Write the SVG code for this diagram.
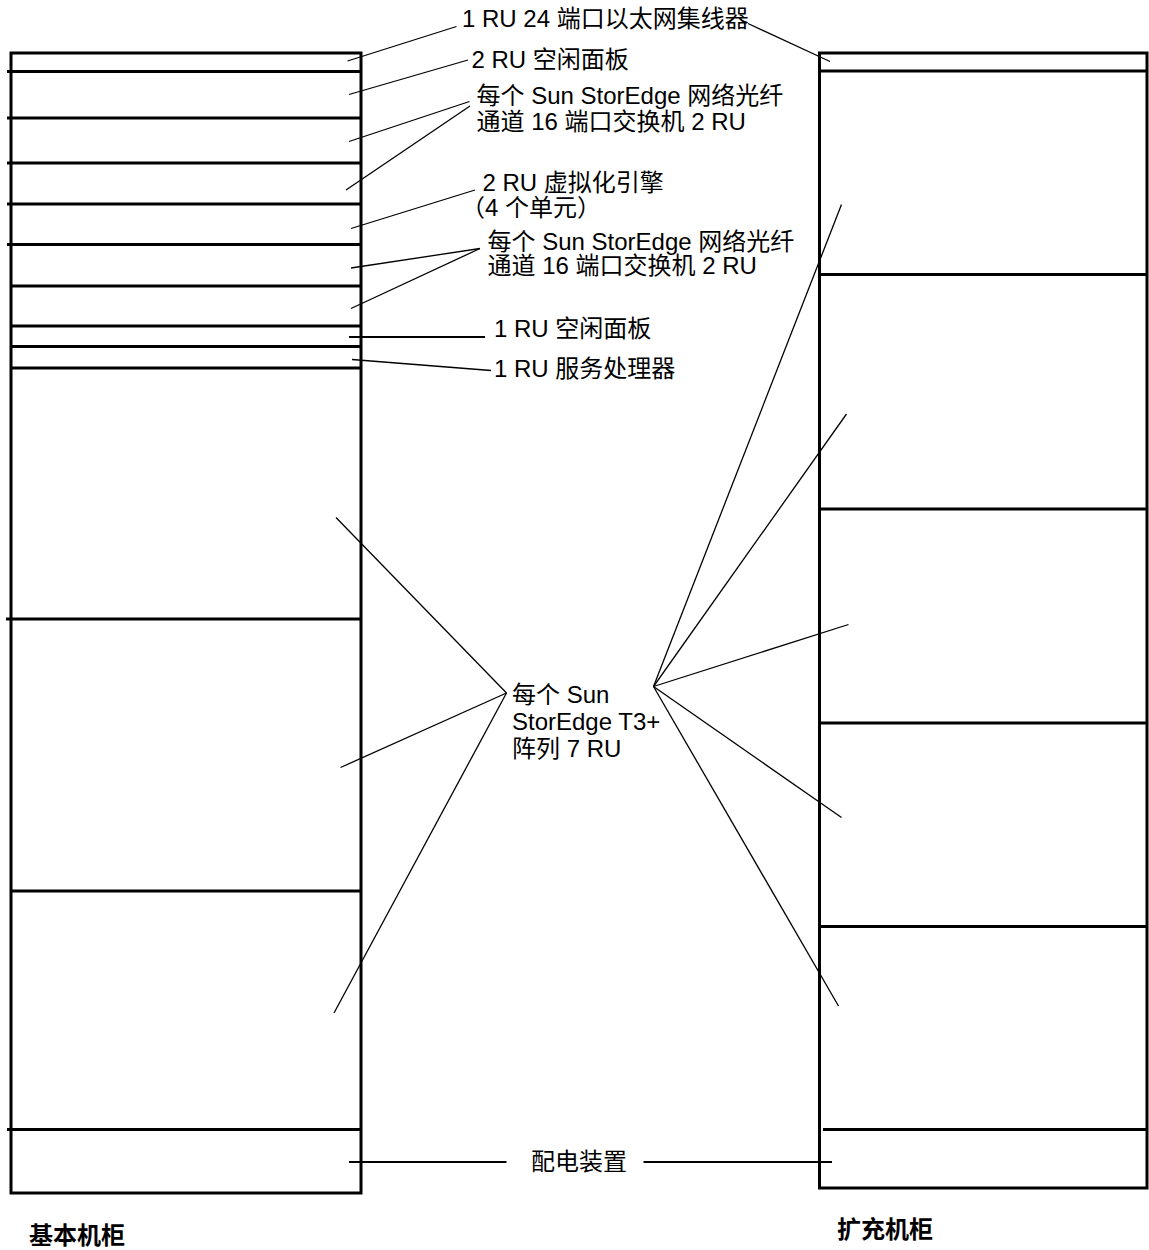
<svg xmlns="http://www.w3.org/2000/svg" width="1149" height="1250" viewBox="0 0 1149 1250">
<style>
.cab{fill:none;stroke:#000;stroke-width:3}
.div{stroke:#000;stroke-width:3}
.ld{stroke:#000;stroke-width:1.3;fill:none}
.ldt{stroke:#000;stroke-width:2;fill:none}
text{font-family:"Liberation Sans","Noto Sans CJK SC",sans-serif;font-size:24px;fill:#000}
.b{font-weight:bold}
</style>
<rect width="1149" height="1250" fill="#fff"/>
<g id="base-cabinet">
<rect class="cab" x="11" y="53" width="350" height="1140"/>
<line class="div" x1="7" y1="71.5" x2="361" y2="71.5"/>
<line class="div" x1="7" y1="118" x2="361" y2="118"/>
<line class="div" x1="7" y1="163" x2="361" y2="163"/>
<line class="div" x1="7" y1="204" x2="361" y2="204"/>
<line class="div" x1="7" y1="244.5" x2="361" y2="244.5"/>
<line class="div" x1="11" y1="286" x2="361" y2="286"/>
<line class="div" x1="11" y1="326" x2="361" y2="326"/>
<line class="div" x1="11" y1="346.5" x2="361" y2="346.5"/>
<line class="div" x1="11" y1="368" x2="361" y2="368"/>
<line class="div" x1="6" y1="619" x2="361" y2="619"/>
<line class="div" x1="11" y1="891" x2="361" y2="891"/>
<line class="div" x1="7" y1="1129.5" x2="361" y2="1129.5"/>
<text class="b" x="29" y="1244">基本机柜</text>
</g>
<g id="expansion-cabinet">
<rect class="cab" x="819.5" y="53" width="327.5" height="1135"/>
<line class="div" x1="819.5" y1="71" x2="1147" y2="71"/>
<line class="div" x1="819.5" y1="274.5" x2="1147" y2="274.5"/>
<line class="div" x1="819.5" y1="509" x2="1147" y2="509"/>
<line class="div" x1="819.5" y1="723" x2="1147" y2="723"/>
<line class="div" x1="819.5" y1="926.5" x2="1147" y2="926.5"/>
<line class="div" x1="823" y1="1129.5" x2="1147" y2="1129.5"/>
<text class="b" x="837" y="1238">扩充机柜</text>
</g>
<g id="labels">
<text x="462" y="27">1 RU 24 端口以太网集线器</text>
<text x="471.5" y="68">2 RU 空闲面板</text>
<text x="476.5" y="103.5">每个 Sun StorEdge 网络光纤</text>
<text x="476.5" y="129.5">通道 16 端口交换机 2 RU</text>
<text x="482.5" y="190.5">2 RU 虚拟化引擎</text>
<text x="461" y="216">（4 个单元）</text>
<text x="487.5" y="249.5">每个 Sun StorEdge 网络光纤</text>
<text x="487.5" y="274">通道 16 端口交换机 2 RU</text>
<text x="494" y="337">1 RU 空闲面板</text>
<text x="494" y="377">1 RU 服务处理器</text>
<text x="512" y="703">每个 Sun</text>
<text x="512" y="729.5">StorEdge T3+</text>
<text x="512" y="757">阵列 7 RU</text>
<text x="531" y="1170">配电装置</text>
</g>
<g id="connectors">
<line class="ld" x1="347.5" y1="61" x2="456.5" y2="26.5"/>
<line class="ld" x1="748" y1="23.5" x2="830" y2="61.5"/>
<line class="ld" x1="349" y1="94.5" x2="468" y2="60"/>
<line class="ld" x1="349" y1="141.5" x2="469.5" y2="101.5"/>
<line class="ld" x1="346" y1="190" x2="470" y2="106"/>
<line class="ld" x1="351" y1="228.5" x2="475" y2="190"/>
<line class="ld" x1="351" y1="268" x2="480" y2="248.5"/>
<line class="ld" x1="351" y1="308.5" x2="480" y2="248.5"/>
<line class="ldt" x1="349" y1="337" x2="485" y2="337"/>
<line class="ld" x1="352" y1="359.5" x2="491" y2="370.5"/>
<line class="ld" x1="336" y1="517.5" x2="506.5" y2="693"/>
<line class="ld" x1="340.5" y1="767.5" x2="506.5" y2="693"/>
<line class="ld" x1="334" y1="1013" x2="506.5" y2="693"/>
<line class="ld" x1="653.5" y1="686.5" x2="841.5" y2="204.5"/>
<line class="ld" x1="653.5" y1="686.5" x2="846.5" y2="414"/>
<line class="ld" x1="653.5" y1="686.5" x2="848.5" y2="624.5"/>
<line class="ld" x1="653.5" y1="686.5" x2="841.5" y2="817.5"/>
<line class="ld" x1="653.5" y1="686.5" x2="838.5" y2="1006"/>
<line class="ldt" x1="349" y1="1162" x2="506.5" y2="1162"/>
<line class="ldt" x1="643.5" y1="1162" x2="832" y2="1162"/>
</g>
</svg>
